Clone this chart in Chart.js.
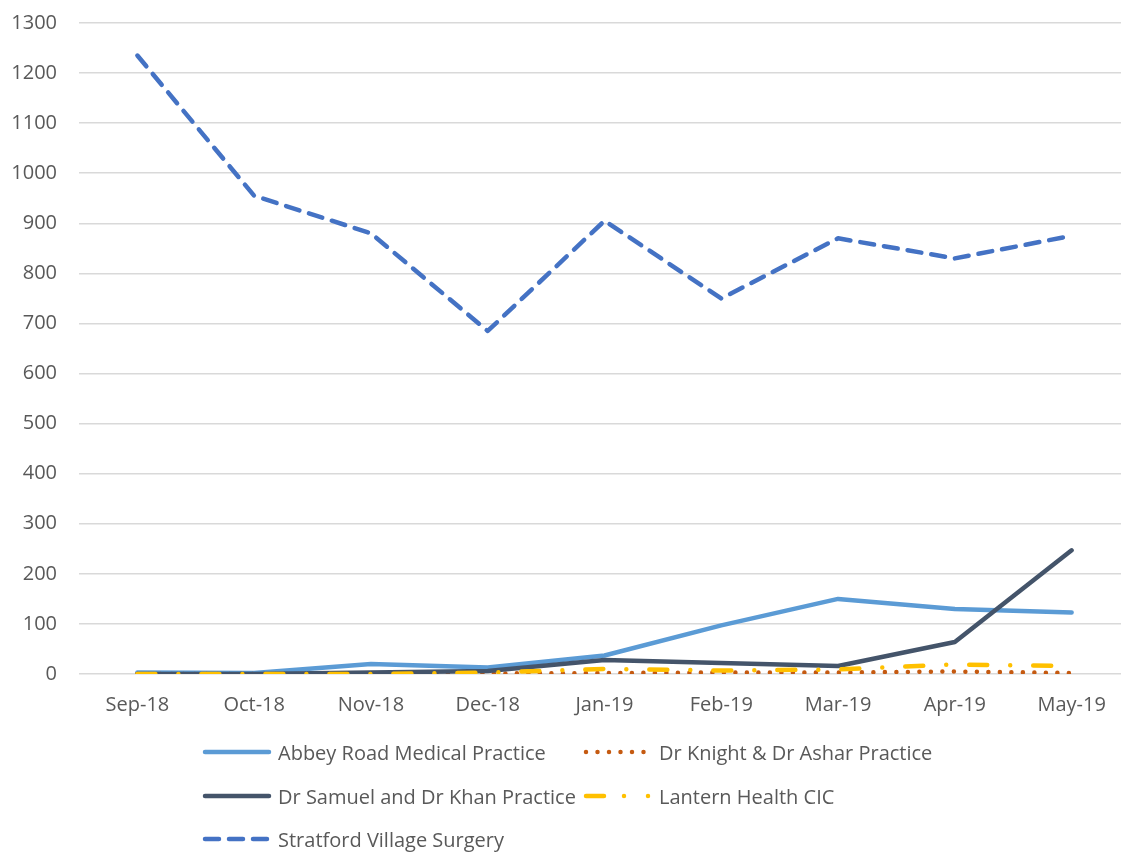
<!DOCTYPE html>
<html>
<head>
<meta charset="utf-8">
<script src="https://cdn.jsdelivr.net/npm/chart.js@4"></script>
<style>
  html, body { margin: 0; padding: 0; background: #fff; overflow: hidden; width: 1121px; height: 852px; }
  #wrap { position: absolute; left: 0; top: 0; width: 1131px; height: 721px; }
  #legend { position: absolute; left: 0; top: 0; width: 1121px; height: 852px; pointer-events: none;
    font-family: "Open Sans", sans-serif; font-size: 20px; color: #595959; }
  .item { position: absolute; display: flex; align-items: center; white-space: nowrap; }
  .item canvas { margin-right: 6px; }
</style>
</head>
<body>
<div id="wrap"><canvas id="myChart" width="1131" height="721"></canvas></div>
<div id="legend"></div>
<script>
// data
const months = ["Sep-18", "Oct-18", "Nov-18", "Dec-18", "Jan-19", "Feb-19", "Mar-19", "Apr-19", "May-19"];
const abbeyRoad = [3, 2, 20, 13, 37, 97, 150, 130, 123];
const drKnight = [0, 0, 0, 1, 2, 3, 3, 5, 2];
const drSamuel = [0, 0, 3, 6, 28, 22, 16, 64, 247];
const lantern = [0, 0, 0, 3, 10, 7, 9, 19, 16];
const stratford = [1235, 955, 880, 685, 905, 750, 870, 830, 875];
const seriesNames = [
  "Abbey Road Medical Practice",
  "Dr Knight & Dr Ashar Practice",
  "Dr Samuel and Dr Khan Practice",
  "Lantern Health CIC",
  "Stratford Village Surgery",
];

const textColor = "#595959";
const fontFamily = "'Open Sans', sans-serif";

function series(label, data, color, dash, order) {
  return {
    label: label,
    data: data,
    borderColor: color,
    backgroundColor: color,
    borderWidth: 4.5,
    borderDash: dash,
    borderCapStyle: "round",
    borderJoinStyle: "round",
    pointRadius: 0,
    tension: 0,
    fill: false,
    order: order, // later series drawn on top, like the original
  };
}

const ctx = document.getElementById("myChart").getContext("2d");

const chartConfig = {
  type: "line",
  data: {
    labels: months,
    datasets: [
      series(seriesNames[0], abbeyRoad, "#5B9BD5", [], 5),
      series(seriesNames[1], drKnight, "#C55A11", [0, 11.5], 4),
      series(seriesNames[2], drSamuel, "#44546A", [], 3),
      series(seriesNames[3], lantern, "#FFC000", [18, 23, 0, 23], 2),
      series(seriesNames[4], stratford, "#4472C4", [14, 10], 1),
    ],
  },
  options: {
    responsive: false,
    animation: false,
    layout: { padding: { top: 23, left: 0, right: 1, bottom: 0 } },
    plugins: {
      legend: { display: false },
      tooltip: { enabled: false },
    },
    scales: {
      x: {
        offset: true,
        grid: { display: false, drawTicks: false },
        border: { display: false },
        ticks: {
          color: textColor,
          font: { family: fontFamily, size: 20 },
          padding: 19,
          maxRotation: 0,
          autoSkip: false,
        },
        afterFit: (scale) => { scale.height = 47; },
      },
      y: {
        min: 0,
        max: 1300,
        grid: { color: "#D9D9D9", lineWidth: 1.5, drawTicks: false },
        border: { display: false },
        ticks: {
          stepSize: 100,
          color: textColor,
          font: { family: fontFamily, size: 20 },
          padding: 22,
          callback: (v) => String(v),
        },
        afterFit: (scale) => {
          scale.width = 79;
          // tick padding is only meant sideways here
          scale.paddingTop = 0;
          scale.paddingBottom = 0;
        },
      },
    },
  },
};

const myChart = new Chart(ctx, chartConfig);

// legend built from the datasets, laid out like the original (two columns)
const legendSlots = [
  { left: 202, top: 753, w: 70 },
  { left: 583, top: 753, w: 70 },
  { left: 202, top: 797, w: 70 },
  { left: 583, top: 797, w: 70 },
  { left: 202, top: 840, w: 70 },
];
// the short legend swatch of the dash-dot-dot line shows both dots
const swatchDash = { 3: [18, 20, 0, 24, 0, 100] };
const legendEl = document.getElementById("legend");
myChart.data.datasets.forEach((ds, i) => {
  const item = document.createElement("div");
  item.className = "item";
  item.style.left = legendSlots[i].left + "px";
  item.style.top = (legendSlots[i].top - 15) + "px";
  item.style.height = "28px";
  const sw = document.createElement("canvas");
  const w = legendSlots[i].w;
  sw.width = w;
  sw.height = 10;
  const c = sw.getContext("2d");
  c.strokeStyle = ds.borderColor;
  c.lineWidth = ds.borderWidth;
  c.lineCap = ds.borderCapStyle;
  c.setLineDash(swatchDash[i] || ds.borderDash);
  c.beginPath();
  c.moveTo(3, 5);
  c.lineTo(w - 3, 5);
  c.stroke();
  item.appendChild(sw);
  const span = document.createElement("span");
  span.textContent = ds.label;
  item.appendChild(span);
  legendEl.appendChild(item);
});
</script>
</body>
</html>
